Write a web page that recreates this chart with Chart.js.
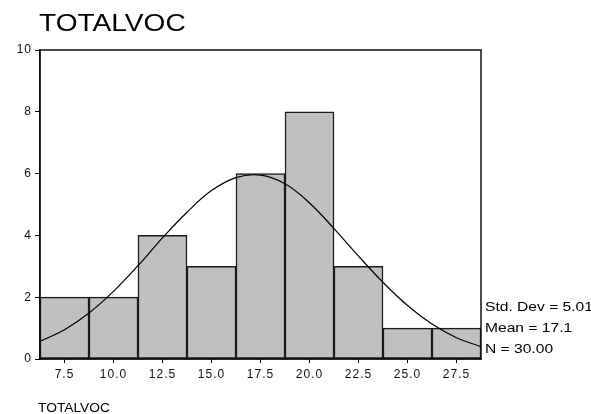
<!DOCTYPE html>
<html>
<head>
<meta charset="utf-8">
<script src="https://cdn.jsdelivr.net/npm/chart.js@4/dist/chart.umd.min.js"></script>
<style>
    body { margin: 0; background: #fff; }
    #wrap { position: relative; width: 591px; height: 414px; overflow: hidden; font-family: "Liberation Sans", Arial, sans-serif; }
    canvas { position: absolute; left: 0; top: 0; }
    .txt { position: absolute; color: #000; white-space: nowrap; transform-origin: left top; }
    #title { left: 39px; top: 9px; font-size: 24px; transform: scaleX(1.17); }
    #xtitle { left: 38px; top: 400px; font-size: 13px; transform: scaleX(1.06); }
    .stat { left: 485px; font-size: 12px; transform: scaleX(1.3); }
</style>
</head>
<body>
<div id="wrap">
    <canvas id="histChart" width="591" height="414"></canvas>
    <div class="txt" id="title">TOTALVOC</div>
    <div class="txt" id="xtitle">TOTALVOC</div>
    <div class="txt stat" style="top:300px">Std. Dev = 5.01</div>
    <div class="txt stat" style="top:321px">Mean = 17.1</div>
    <div class="txt stat" style="top:342px">N = 30.00</div>
</div>
<script>
// histogram bins (midpoints) and counts
const binMids = [7.5, 10.0, 12.5, 15.0, 17.5, 20.0, 22.5, 25.0, 27.5];
const counts = [2, 2, 4, 3, 6, 8, 3, 1, 1];

// normal curve, values
const curveX = [6.25, 7.5, 8.75, 10, 11.25, 12.5, 13.75, 15, 16.25, 17.5, 18.75, 20, 21.25, 22.5, 23.75, 25, 26.25, 27.5, 28.75];
const curveY = [0.57, 0.95, 1.49, 2.19, 3.02, 3.92, 4.75, 5.45, 5.87, 5.95, 5.67, 5.05, 4.22, 3.33, 2.48, 1.73, 1.13, 0.69, 0.40];

const xTicks = ["7.5", "10.0", "12.5", "15.0", "17.5", "20.0", "22.5", "25.0", "27.5"];
const yTicks = [0, 2, 4, 6, 8, 10];

// wider tick text, like the original
const spacingPlugin = {
    id: 'spacing',
    beforeDraw(chart) {
        chart.ctx.letterSpacing = '1px';
    }
};

// frame round the plot area
const framePlugin = {
    id: 'frame',
    afterDatasetsDraw(chart) {
        const { ctx, chartArea: a } = chart;
        ctx.save();
        ctx.strokeStyle = '#111';
        ctx.lineWidth = 1.5;
        ctx.strokeRect(a.left, a.top, a.right - a.left, a.bottom - a.top);
        ctx.restore();
    }
};

const ctx = document.getElementById('histChart').getContext('2d');

new Chart(ctx, {
    type: 'bar',
    data: {
        datasets: [
            {
                type: 'line',
                data: curveX.map((x, i) => ({ x: x, y: curveY[i] })),
                borderColor: '#000',
                borderWidth: 1.2,
                pointRadius: 0,
                tension: 0.4,
                fill: false,
                order: 0
            },
            {
                type: 'bar',
                data: binMids.map((x, i) => ({ x: x, y: counts[i] })),
                backgroundColor: '#c0c0c0',
                borderColor: '#1a1a1a',
                borderWidth: 1.5,
                borderSkipped: false,
                categoryPercentage: 1.0,
                barPercentage: 1.0,
                order: 1
            }
        ]
    },
    options: {
        responsive: false,
        animation: false,
        layout: { padding: { left: 0, top: 50, right: 110, bottom: 0 } },
        plugins: {
            legend: { display: false },
            tooltip: { enabled: false }
        },
        scales: {
            x: {
                type: 'linear',
                min: 6.25,
                max: 28.75,
                offset: false,
                afterBuildTicks(scale) {
                    scale.ticks = binMids.map(v => ({ value: v }));
                },
                afterFit(scale) { scale.height = 55; },
                grid: { offset: false, drawOnChartArea: false, drawTicks: true, tickLength: 4, color: '#000' },
                border: { display: true, color: '#000', width: 1.5 },
                ticks: {
                    color: '#111',
                    padding: 4,
                    maxRotation: 0,
                    autoSkip: false,
                    font: { family: 'Liberation Sans', size: 12 },
                    callback: (v, i) => xTicks[i]
                }
            },
            y: {
                min: 0,
                max: 10,
                afterBuildTicks(scale) {
                    scale.ticks = yTicks.map(v => ({ value: v }));
                },
                afterFit(scale) { scale.width = 40; },
                grid: { drawOnChartArea: false, drawTicks: true, tickLength: 5, color: '#000' },
                border: { display: true, color: '#000', width: 1.5 },
                ticks: {
                    color: '#111',
                    padding: 3,
                    font: { family: 'Liberation Sans', size: 12 }
                }
            }
        }
    },
    plugins: [spacingPlugin, framePlugin]
});
</script>
</body>
</html>
